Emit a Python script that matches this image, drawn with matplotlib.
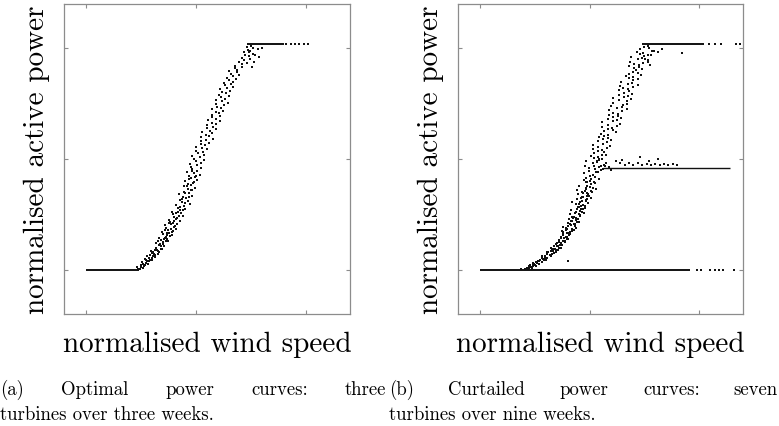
import numpy as np
import matplotlib
matplotlib.use("Agg")
import matplotlib.pyplot as plt

# Values (normalised units, ticks at 0, 0.5, 1).

# (a) optimal power curves: scattered points along the ramp
ramp_a = [
    (0.245, 0.005), (0.23, 0.012), (0.263, 0.018), (0.248, 0.022), (0.272, 0.03), (0.254, 0.034),
    (0.276, 0.04), (0.293, 0.045), (0.266, 0.05), (0.288, 0.055), (0.306, 0.06), (0.277, 0.064),
    (0.309, 0.07), (0.299, 0.075), (0.33, 0.08), (0.294, 0.084), (0.324, 0.09), (0.34, 0.095),
    (0.317, 0.1), (0.354, 0.105), (0.333, 0.11), (0.35, 0.115), (0.32, 0.12), (0.35, 0.125),
    (0.372, 0.13), (0.34, 0.135), (0.368, 0.14), (0.332, 0.145), (0.362, 0.15), (0.389, 0.155),
    (0.35, 0.16), (0.377, 0.165), (0.344, 0.17), (0.394, 0.175), (0.373, 0.18), (0.411, 0.185),
    (0.365, 0.19), (0.399, 0.195), (0.36, 0.2), (0.415, 0.205), (0.396, 0.21), (0.384, 0.215),
    (0.427, 0.22), (0.379, 0.226), (0.415, 0.232), (0.402, 0.238), (0.443, 0.244), (0.397, 0.25),
    (0.434, 0.256), (0.389, 0.262), (0.428, 0.268), (0.451, 0.274), (0.418, 0.28), (0.446, 0.286),
    (0.41, 0.292), (0.472, 0.298), (0.438, 0.304), (0.462, 0.31), (0.425, 0.316), (0.456, 0.322),
    (0.442, 0.328), (0.482, 0.334), (0.423, 0.34), (0.469, 0.346), (0.446, 0.352), (0.484, 0.358),
    (0.464, 0.364), (0.497, 0.37), (0.446, 0.376), (0.477, 0.382), (0.463, 0.388), (0.493, 0.394),
    (0.45, 0.4), (0.505, 0.406), (0.475, 0.412), (0.495, 0.418), (0.466, 0.424), (0.518, 0.43),
    (0.49, 0.436), (0.459, 0.442), (0.506, 0.448), (0.483, 0.454), (0.521, 0.46), (0.479, 0.466),
    (0.506, 0.472), (0.474, 0.478), (0.521, 0.484), (0.499, 0.49), (0.538, 0.496), (0.492, 0.502),
    (0.518, 0.508), (0.484, 0.514), (0.536, 0.52), (0.508, 0.526), (0.534, 0.532), (0.5, 0.538),
    (0.552, 0.544), (0.526, 0.55), (0.499, 0.556), (0.543, 0.562), (0.521, 0.568), (0.56, 0.574),
    (0.521, 0.58), (0.547, 0.586), (0.576, 0.592), (0.523, 0.598), (0.559, 0.604), (0.544, 0.61),
    (0.574, 0.616), (0.528, 0.622), (0.563, 0.628), (0.59, 0.634), (0.551, 0.64), (0.579, 0.646),
    (0.549, 0.652), (0.59, 0.658), (0.572, 0.664), (0.608, 0.67), (0.555, 0.676), (0.59, 0.682),
    (0.573, 0.688), (0.61, 0.694), (0.571, 0.7), (0.606, 0.706), (0.593, 0.712), (0.625, 0.718),
    (0.573, 0.724), (0.612, 0.73), (0.594, 0.736), (0.627, 0.742), (0.593, 0.748), (0.645, 0.754),
    (0.618, 0.76), (0.593, 0.766), (0.634, 0.772), (0.615, 0.778), (0.65, 0.784), (0.606, 0.79),
    (0.636, 0.796), (0.618, 0.802), (0.654, 0.808), (0.611, 0.814), (0.64, 0.82), (0.67, 0.826),
    (0.634, 0.832), (0.659, 0.838), (0.627, 0.844), (0.668, 0.85), (0.65, 0.856), (0.681, 0.862),
    (0.643, 0.868), (0.668, 0.874), (0.695, 0.88), (0.657, 0.886), (0.687, 0.892), (0.65, 0.898),
    (0.688, 0.904), (0.678, 0.91), (0.711, 0.916), (0.676, 0.922), (0.71, 0.928), (0.734, 0.934),
    (0.695, 0.94), (0.718, 0.946), (0.745, 0.952), (0.707, 0.958), (0.741, 0.964), (0.722, 0.97),
    (0.76, 0.976), (0.72, 0.982), (0.746, 0.988), (0.738, 0.994), (0.758, 1.0), (0.733, 1.006),
    (0.765, 0.94), (0.77, 0.97), (0.78, 0.995), (0.755, 0.915), (0.80, 1.0), (0.785, 0.96),
    (0.75, 1.01), (0.74, 0.985),
    (0.26, 0.008), (0.283, 0.028), (0.30, 0.045), (0.315, 0.058), (0.327, 0.072), (0.312, 0.088),
    (0.345, 0.093), (0.338, 0.118), (0.362, 0.128), (0.357, 0.143), (0.381, 0.152), (0.37, 0.168),
    (0.388, 0.182), (0.405, 0.198), (0.378, 0.212), (0.41, 0.228), (0.423, 0.241), (0.407, 0.258),
    (0.44, 0.27), (0.425, 0.285), (0.452, 0.3), (0.435, 0.318), (0.468, 0.33), (0.45, 0.345),
    (0.475, 0.36), (0.458, 0.378), (0.487, 0.39), (0.47, 0.41), (0.498, 0.425), (0.484, 0.445),
    (0.238, 0.004), (0.252, 0.012), (0.27, 0.02), (0.258, 0.028), (0.285, 0.038), (0.272, 0.046),
    (0.298, 0.052), (0.289, 0.066), (0.313, 0.068), (0.304, 0.082), (0.326, 0.086), (0.342, 0.108),
    (0.326, 0.13), (0.355, 0.14), (0.366, 0.158), (0.36, 0.18), (0.392, 0.172), (0.385, 0.205),
    (0.4, 0.222), (0.418, 0.262),
]
# sparse dots at the end of the rated plateau
plateau_dots_a = [(0.91, 1.02), (0.93, 1.02), (0.95, 1.02), (0.97, 1.02), (0.99, 1.02), (1.01, 1.02)]
# dense horizontal runs: (start, end, level)
runs_a = [(0.0, 0.24, 0.0), (0.73, 0.90, 1.02)]

# (b) curtailed power curves
ramp_b = [
    (0.189, 0.005), (0.225, 0.01), (0.242, 0.015), (0.23, 0.02), (0.247, 0.025), (0.24, 0.03),
    (0.283, 0.035), (0.263, 0.04), (0.292, 0.045), (0.289, 0.05), (0.302, 0.055), (0.285, 0.06),
    (0.323, 0.065), (0.308, 0.07), (0.339, 0.075), (0.305, 0.08), (0.333, 0.085), (0.348, 0.09),
    (0.333, 0.095), (0.368, 0.1), (0.351, 0.105), (0.366, 0.11), (0.347, 0.115), (0.371, 0.12),
    (0.362, 0.125), (0.387, 0.13), (0.359, 0.135), (0.404, 0.14), (0.384, 0.145), (0.397, 0.15),
    (0.378, 0.155), (0.413, 0.16), (0.395, 0.165), (0.409, 0.17), (0.375, 0.175), (0.428, 0.18),
    (0.397, 0.185), (0.44, 0.19), (0.378, 0.195), (0.417, 0.2), (0.433, 0.205), (0.402, 0.21),
    (0.45, 0.215), (0.419, 0.22), (0.44, 0.225), (0.406, 0.23), (0.44, 0.235), (0.422, 0.24),
    (0.458, 0.245), (0.41, 0.25), (0.477, 0.255), (0.44, 0.26), (0.456, 0.265), (0.416, 0.27),
    (0.462, 0.275), (0.478, 0.28), (0.446, 0.285), (0.46, 0.29), (0.437, 0.295), (0.493, 0.3),
    (0.419, 0.305), (0.466, 0.31), (0.485, 0.315), (0.445, 0.32), (0.505, 0.325), (0.465, 0.33),
    (0.49, 0.335), (0.446, 0.34), (0.487, 0.345), (0.464, 0.35), (0.508, 0.355), (0.445, 0.36),
    (0.529, 0.365), (0.482, 0.37), (0.502, 0.375), (0.45, 0.38), (0.507, 0.385), (0.526, 0.39),
    (0.485, 0.395), (0.502, 0.4), (0.473, 0.405), (0.541, 0.41), (0.484, 0.415), (0.526, 0.42),
    (0.502, 0.425), (0.517, 0.43), (0.474, 0.435), (0.538, 0.44), (0.498, 0.445), (0.55, 0.45),
    (0.523, 0.455), (0.499, 0.46), (0.543, 0.465), (0.48, 0.47), (0.564, 0.475), (0.516, 0.48),
    (0.536, 0.485), (0.484, 0.49), (0.541, 0.495), (0.559, 0.5), (0.519, 0.505), (0.537, 0.51),
    (0.508, 0.515), (0.577, 0.52), (0.521, 0.525), (0.564, 0.53), (0.54, 0.535), (0.557, 0.54),
    (0.514, 0.545), (0.579, 0.55), (0.539, 0.555), (0.592, 0.56), (0.514, 0.565), (0.561, 0.57),
    (0.58, 0.575), (0.54, 0.58), (0.60, 0.585), (0.561, 0.59), (0.586, 0.595), (0.542, 0.6),
    (0.564, 0.605), (0.582, 0.61), (0.553, 0.615), (0.622, 0.62), (0.566, 0.625), (0.609, 0.63),
    (0.585, 0.635), (0.601, 0.64), (0.559, 0.645), (0.624, 0.65), (0.584, 0.655), (0.637, 0.66),
    (0.559, 0.665), (0.606, 0.67), (0.625, 0.675), (0.585, 0.68), (0.645, 0.685), (0.606, 0.69),
    (0.631, 0.695), (0.587, 0.7), (0.628, 0.705), (0.606, 0.71), (0.65, 0.715), (0.588, 0.72),
    (0.673, 0.725), (0.626, 0.73), (0.646, 0.735), (0.596, 0.74), (0.653, 0.745), (0.672, 0.75),
    (0.608, 0.755), (0.673, 0.76), (0.634, 0.765), (0.687, 0.77), (0.608, 0.775), (0.655, 0.78),
    (0.674, 0.785), (0.635, 0.79), (0.695, 0.795), (0.655, 0.8), (0.68, 0.805), (0.636, 0.81),
    (0.677, 0.815), (0.654, 0.82), (0.699, 0.825), (0.637, 0.83), (0.721, 0.835), (0.674, 0.84),
    (0.694, 0.845), (0.643, 0.85), (0.70, 0.855), (0.719, 0.86), (0.679, 0.865), (0.696, 0.87),
    (0.667, 0.875), (0.736, 0.88), (0.679, 0.885), (0.722, 0.89), (0.698, 0.895), (0.714, 0.9),
    (0.74, 0.905), (0.701, 0.91), (0.726, 0.915), (0.682, 0.92), (0.724, 0.925), (0.701, 0.93),
    (0.745, 0.935), (0.683, 0.94), (0.768, 0.945), (0.721, 0.95), (0.741, 0.955), (0.691, 0.96),
    (0.748, 0.965), (0.768, 0.97), (0.728, 0.975), (0.745, 0.98), (0.717, 0.985), (0.786, 0.99),
    (0.73, 0.995), (0.773, 1.0), (0.749, 1.005), (0.765, 1.01),
    (0.215, 0.006), (0.232, 0.014), (0.25, 0.022), (0.262, 0.03), (0.271, 0.041), (0.29, 0.047),
    (0.296, 0.058), (0.318, 0.066), (0.31, 0.078), (0.335, 0.083), (0.343, 0.094), (0.326, 0.1),
    (0.358, 0.108), (0.352, 0.122), (0.38, 0.128), (0.368, 0.142), (0.392, 0.147), (0.379, 0.16),
    (0.405, 0.168), (0.392, 0.178), (0.42, 0.186), (0.404, 0.196), (0.43, 0.208), (0.415, 0.218),
    (0.447, 0.228), (0.428, 0.24), (0.452, 0.252), (0.436, 0.262), (0.468, 0.272), (0.45, 0.283),
    (0.472, 0.293), (0.455, 0.305), (0.488, 0.318), (0.47, 0.33), (0.495, 0.342), (0.478, 0.356),
    (0.515, 0.368), (0.49, 0.38), (0.52, 0.395), (0.505, 0.41),
    (0.205, 0.003), (0.22, 0.004), (0.238, 0.01), (0.226, 0.018), (0.258, 0.018), (0.244, 0.027),
    (0.268, 0.024), (0.256, 0.036), (0.281, 0.033), (0.274, 0.046), (0.30, 0.043), (0.281, 0.055),
    (0.307, 0.052), (0.295, 0.064), (0.322, 0.06), (0.304, 0.073), (0.33, 0.07), (0.322, 0.083),
    (0.346, 0.08), (0.33, 0.092), (0.355, 0.09), (0.338, 0.106), (0.362, 0.1), (0.348, 0.116),
    (0.374, 0.113), (0.36, 0.132), (0.386, 0.124), (0.372, 0.148), (0.398, 0.139), (0.381, 0.172),
    (0.408, 0.156), (0.393, 0.188), (0.422, 0.176), (0.41, 0.206), (0.433, 0.196), (0.423, 0.232),
    (0.445, 0.216), (0.433, 0.256), (0.458, 0.244), (0.444, 0.276), (0.466, 0.262), (0.452, 0.298),
    (0.478, 0.286), (0.462, 0.322), (0.485, 0.31), (0.47, 0.345), (0.497, 0.334), (0.482, 0.366),
    (0.51, 0.352), (0.49, 0.398),
    (0.40, 0.04), (0.92, 0.98), (0.78, 0.97), (0.795, 0.99), (0.81, 0.985), (0.83, 0.995),
    (0.765, 0.94), (0.775, 0.925), (0.755, 0.95),
]
# points around the curtailed level
curtailed_b = [
    (0.55, 0.47), (0.56, 0.455), (0.57, 0.47), (0.575, 0.48), (0.59, 0.465), (0.60, 0.45),
    (0.62, 0.49), (0.64, 0.48), (0.66, 0.475), (0.68, 0.48), (0.70, 0.475), (0.72, 0.48),
    (0.74, 0.475), (0.76, 0.478), (0.78, 0.475), (0.80, 0.477), (0.82, 0.475), (0.84, 0.476),
    (0.86, 0.475), (0.88, 0.476), (0.90, 0.475), (0.65, 0.495), (0.73, 0.51), (0.81, 0.50),
    (0.77, 0.49), (0.53, 0.44), (0.535, 0.49), (0.545, 0.50), (0.555, 0.52), (0.52, 0.47),
]
plateau_dots_b = [
    (0.99, 0.0), (1.01, 0.0), (1.05, 0.0), (1.07, 0.0), (1.09, 0.0), (1.11, 0.0), (1.16, 0.0),
    (1.045, 1.02), (1.07, 1.02), (1.10, 1.02), (1.17, 1.02), (1.185, 1.02),
]
runs_b = [(0.0, 0.96, 0.0), (0.74, 1.02, 1.02), (0.56, 1.14, 0.46)]

x_label = "normalised wind speed"
y_label = "normalised active power"
captions = [
    ("(a) Optimal power curves: three", "turbines over three weeks."),
    ("(b) Curtailed power curves: seven", "turbines over nine weeks."),
]

W, H = 779, 427
fig = plt.figure(figsize=(W / 100, H / 100), dpi=100)
font = "cmr10"
frame = "#8c8c8c"

panels = [
    (fig.add_axes([64 / W, 1 - 315 / H, 286 / W, 310 / H]), ramp_a, [], plateau_dots_a, runs_a),
    (fig.add_axes([458 / W, 1 - 315 / H, 285 / W, 310 / H]), ramp_b, curtailed_b, plateau_dots_b, runs_b),
]

for ax, ramp, extra, dots, runs in panels:
    for i, (x0, x1, lvl) in enumerate(runs):
        ax.plot([x0, x1], [lvl, lvl], color="#111111", lw=1.4 if i < 2 else 1.0,
                solid_capstyle="butt")
    pts = np.array(ramp + extra + dots)
    ax.scatter(pts[:, 0], pts[:, 1], s=2.5, color="#111111", linewidths=0, marker="s")
    ax.set_xlim(-0.1, 1.2)
    ax.set_ylim(-0.2, 1.2)
    ax.set_xticks([0, 0.5, 1])
    ax.set_yticks([0, 0.5, 1])
    ax.tick_params(direction="in", length=3, width=0.8, color=frame,
                   top=True, right=True, labelbottom=False, labelleft=False)
    for sp in ax.spines.values():
        sp.set_color(frame)
        sp.set_linewidth(0.9)
    ax.set_xlabel(x_label, family=font, fontsize=21, labelpad=12)
    ax.set_ylabel(y_label, family=font, fontsize=21, labelpad=10)

# captions, first line justified to the column width like the source
fig.canvas.draw()
renderer = fig.canvas.get_renderer()
columns = [(0, 386), (389, 778)]
for (line1, line2), (c0, c1) in zip(captions, columns):
    words = line1.split()
    texts = [fig.text(0, 1 - 395 / H, w, family=font, fontsize=13.5) for w in words]
    widths = [t.get_window_extent(renderer).width for t in texts]
    gap = (c1 - c0 - sum(widths)) / (len(words) - 1)
    x = c0
    for t, w in zip(texts, widths):
        t.set_x(x / W)
        x += w + gap
    fig.text(c0 / W, 1 - 420 / H, line2, family=font, fontsize=13.5)

fig.savefig("out.png", dpi=100)
